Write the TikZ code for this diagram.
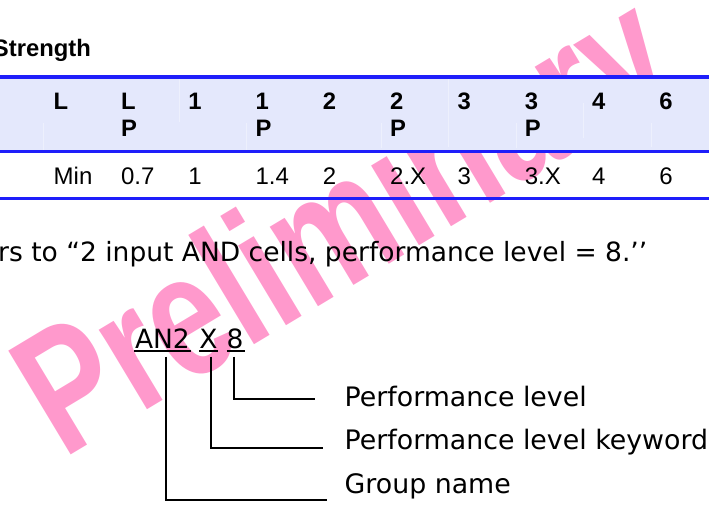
\documentclass[tikz,border=0pt]{standalone}
\usepackage{fontspec}
\setmainfont{DejaVu Sans}
\newfontfamily\arialfont{Liberation Sans}

\definecolor{rulebl}{RGB}{30,30,250}
\definecolor{headbg}{RGB}{228,232,252}
\definecolor{wmpink}{RGB}{255,153,204}

\tikzset{
  hdr/.style={anchor=base west, inner sep=0pt, font=\arialfont\bfseries\fontsize{23.8}{23.8}\selectfont},
  cell/.style={anchor=base west, inner sep=0pt, font=\arialfont\fontsize{24}{24}\selectfont},
  note/.style={anchor=base west, inner sep=0pt, font=\fontsize{26.5}{26.5}\selectfont},
  lbl/.style={note, font=\fontsize{26.8}{26.8}\selectfont},
  wm/.style={anchor=base west, inner sep=0pt, rotate=31, text=wmpink,
    font=\arialfont\bfseries\fontsize{176}{176}\selectfont},
  conn/.style={line width=1.8pt},
  uline/.style={line width=1.6pt},
  rule/.style={draw=rulebl, line width=3.3pt},
  seam/.style={draw=white!35!headbg, line width=0.7pt}
}

\begin{document}
\begin{tikzpicture}[x=1pt, y=-1pt]
\useasboundingbox (0,0) rectangle (709,506);

% watermark, under everything else
\node[wm] (wmark) at (63,460) {\scalebox{0.755}[1]{Preliminary}};

% table title
\node[hdr, anchor=base east] (title) at (91,56.7) {Strength};

% header band and rules
\fill[headbg] (0,78.7) rectangle (709,150);
\draw[rule] (0,77) -- (709,77);
\draw[rule] (0,151.7) -- (709,151.7);
\draw[rule, line width=2.5pt] (0,198.3) -- (709,198.3);

% cell seams in the header band
\foreach \sx/\ya/\yb in {43/123/150, 179/79/122, 246/123/150, 381/123/148,
  448/79/147, 516/123/148, 583/103/138, 651/123/147}
  \draw[seam] (\sx,\ya) -- (\sx,\yb);

% header row
\foreach \t [count=\i] in {L,L,1,1,2,2,3,3,4,6}
  \node[hdr] (h\i) at ({53.5+67.3*(\i-1)},109.3) {\t};
\foreach \i in {2,4,6,8}
  \node[hdr] (p\i) at ({53.5+67.3*(\i-1)},136.7) {P};

% data row
\foreach \t [count=\i] in {Min,0.7,1,1.4,2,2.X,3,3.X,4,6}
  \node[cell] (d\i) at ({53.5+67.3*(\i-1)},184) {\t};

% description line
\node[note] (desc) at (-2,261) {rs to “2 input AND cells, performance level = 8.’’};

% name fields
\node[note] (grp) at (134.8,348) {AN2};
\node[note] (kw)  at (199.2,348) {X};
\node[note] (lvl) at (226.3,348) {8};

\draw[uline] ([xshift=-0.5pt,yshift=-2.8pt]grp.base west) -- ([xshift=0.6pt,yshift=-2.8pt]grp.base east);
\draw[uline] ([xshift=-0.2pt,yshift=-2.8pt]kw.base west) -- ([xshift=0.4pt,yshift=-2.8pt]kw.base east);
\draw[uline] ([xshift=0.4pt,yshift=-2.8pt]lvl.base west) -- ([xshift=1.2pt,yshift=-2.8pt]lvl.base east);

% field labels
\node[lbl] (lbLvl) at (344.5,406) {Performance level};
\node[lbl] (lbKw)  at (344.5,449) {Performance level keyword};
\node[lbl] (lbGrp) at (344.5,493) {Group name};

\coordinate (eLvl) at (315,399.3);
\coordinate (eKw)  at (323.3,448.3);
\coordinate (eGrp) at (326.7,500);

% leader lines
\draw[conn] ([xshift=-0.7pt,yshift=-8.7pt]lvl.base) |- (eLvl);
\draw[conn] ([xshift=2.8pt,yshift=-8.7pt]kw.base) |- (eKw);
\draw[conn] ([xshift=3.9pt,yshift=-8.7pt]grp.base) |- (eGrp);
\end{tikzpicture}
\end{document}
